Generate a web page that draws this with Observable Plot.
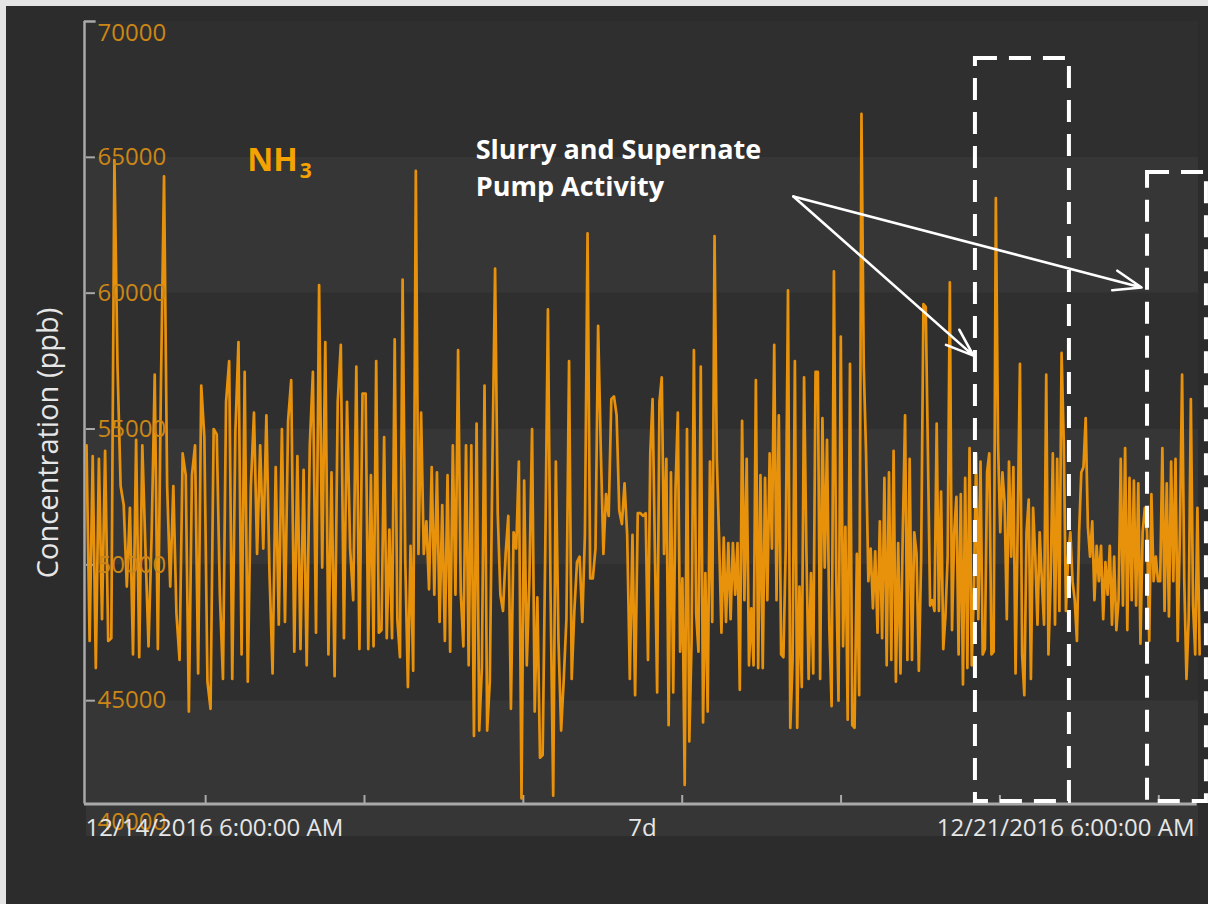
<!DOCTYPE html>
<html><head><meta charset="utf-8">
<script src="https://cdn.jsdelivr.net/npm/d3@7"></script>
<script src="https://cdn.jsdelivr.net/npm/@observablehq/plot@0.6"></script>
<style>
html,body{margin:0;padding:0;background:#2c2c2c;overflow:hidden;}
#edgeTop{position:fixed;left:0;top:0;width:100%;height:6px;background:#e4e4e4;z-index:2;}
#edgeLeft{position:fixed;left:0;top:0;width:6px;height:100%;background:#e4e4e4;z-index:2;}
#frame{position:absolute;left:6px;top:6px;width:1202px;height:898px;background:#2c2c2c;}
#frame svg{overflow:visible;}
</style></head><body><div id="edgeTop"></div><div id="edgeLeft"></div><div id="frame"></div>
<script>
// NH3 concentration (ppb), in four consecutive time segments
const seg1 = [54400, 47200, 54000, 46200, 53900, 48000, 54200, 47200, 47300, 64900, 57300, 52900, 52200, 49200, 52100, 46700, 54600, 46600, 54400, 50600, 47000, 51100, 57000, 46900, 56600, 64300, 52900, 49200, 52900, 48200, 46500, 54100, 53300, 44600, 53300, 54400, 46000, 56600, 54700, 45700, 44700, 55000, 54800, 48900, 45800, 56000, 57500, 45800, 54900, 58200, 46700, 57100, 45700, 52900, 55600, 50400, 54400, 50600, 55500, 49700, 46000, 53600, 47800, 55000, 47900, 55300, 56800, 46800, 54000, 46900, 53500, 46300, 54400, 57100, 47500, 60300, 49900, 58200, 46700, 53400, 45900, 56000, 58100, 47300, 56000, 50600, 48700, 57300, 46900, 56300];
const seg2 = [56300, 46900, 53300, 47000, 57500, 47500, 47600, 54700, 47300, 51300, 47300, 58300, 48000, 46600, 60500, 50200, 45500, 50700, 46100, 64500, 50400, 55600, 50400, 51600, 49100, 53600, 48900, 53400, 47900, 52200, 47200, 53300, 46800, 54400, 48900, 57900, 49000, 47000, 54400, 46300, 54400, 43700, 55200, 43900, 46200, 56600, 43900, 45700, 53900, 60900, 51900, 48900, 48300, 50400, 51800, 44700, 51200, 50600, 53800, 41400, 53100, 46300, 49500, 55000, 44600, 48800, 42900, 43000, 50600, 59400, 48900, 41500, 53800, 47200, 43900, 45800, 48000, 57500, 45800, 48300, 50100, 50300, 47900, 51100, 62200, 49500, 49500, 50600, 58800, 54300, 50400, 52600, 51800, 56100, 56200, 55500, 52000, 51500, 53000, 51100, 45800, 51100, 45200, 51900, 51900, 51800];
const seg3 = [51900, 46500, 54100, 56100, 50600, 45300, 56000, 56900, 50400, 53900, 44100, 53400, 45300, 52800, 55600, 46800, 49500, 41900, 55000, 43500, 47200, 57900, 48200, 46800, 57300, 44200, 49700, 44600, 53800, 47900, 62100, 53900, 50900, 47500, 51000, 47900, 50800, 48000, 50800, 48900, 50800, 45400, 55300, 48700, 53900, 46300, 48400, 46300, 56800, 46200, 53300, 46200, 53200, 48700, 54100, 50600, 58100, 48700, 55500, 46700, 46600, 50600, 60100, 44000, 46500, 57500, 44000, 49200, 45500, 56900, 50600, 45800, 49700, 46000, 57100, 57100, 45800, 55400, 49900, 54600, 47700, 44800, 60800, 49700, 45000, 58400, 47000, 51400, 44300, 57400, 44100, 44000, 50400, 45200, 66600, 57300, 54100, 49400, 50600, 48400, 50500, 47500, 51600, 47300, 53200, 46300, 53400, 46500, 54200, 45700, 50800, 46000, 51200, 55500, 46500, 53900, 46500, 51200, 50400, 46100, 50200, 59600];
const seg4 = [59500, 54100, 48500, 48700, 48300, 55200, 48300, 52700, 46900, 48100, 50300, 60400, 47600, 51200, 52500, 46700, 52600, 45600, 53200, 46200, 54300, 46300, 49100, 54100, 48000, 53800, 46700, 46900, 53400, 54100, 46700, 46800, 63500, 54500, 51200, 53400, 52300, 48000, 53800, 50300, 53600, 46000, 51600, 57400, 46700, 45200, 51200, 52400, 45800, 52100, 50300, 47800, 51200, 49400, 47800, 57000, 46700, 49400, 54100, 47800, 53900, 48300, 57800, 54500, 48300, 50300, 51200, 49400, 48700, 47200, 51200, 53400, 53600, 55400, 51400, 50300, 51600, 48700, 50700, 49400, 50700, 48000, 50100, 48900, 50700, 47800, 50300, 47600, 48700, 53900, 48500, 54300, 47600, 53200, 48700, 53100, 48500, 53000, 47100, 51200, 52100, 51200, 47200, 52600, 49400, 50300, 49400, 49400, 54300, 48300, 53000, 48100, 53800, 49400, 53900, 47200, 51200, 57000, 49400, 45800, 48000, 56100, 48500, 46700, 52100, 46700];
// hours since 12/14/2016 6:00 AM bounding each segment
const segmentHours = [0, 42.17, 84.48, 126.79, 168.5];

const yTicks = [45000, 50000, 55000, 60000, 65000];
const yTopTick = 70000;
const yBottomTick = 40000;
const bandLows = [40000, 45000, 50000, 55000, 60000, 65000];
const midnightHours = [18, 42, 66, 90, 114, 138, 162];
const xLabelHours = [0, 84, 168];
const xLabelTexts = ["12/14/2016 6:00:00 AM", "7d", "12/21/2016 6:00:00 AM"];
const axisBaseValue = 41200;

const boxHours1 = [134.3, 160.3];
const boxHours2 = [148.5, 169.2];
const boxLowValues = [41290, 41290];
const boxHighValues = [68640, 64440];
const arrowFrom = {h: 106.8, v: 63560};
const arrowToHours = [134.0, 159.4];
const arrowToValues = [57700, 60210];
const annotationText = "Slurry and Supernate\nPump Activity";
const annotationPos = {h: 58.8, v: 64700};
const legendMain = {text: "NH", h: 24.3, v: 64880};
const legendSub = {text: "3", h: 32.2, v: 64480};

const startTime = Date.UTC(2016, 11, 14, 6);
const H = 3600e3;
const T = h => new Date(startTime + h * H);

const segments = [seg1, seg2, seg3, seg4];
const data = segments.flatMap((seg, k) => seg.map((v, i) => ({
  t: T(segmentHours[k] + (segmentHours[k + 1] - segmentHours[k]) * i / seg.length), v
})));

const bands = bandLows.map((lo, i) => ({lo, hi: lo + 5000, fill: i % 2 === 0 ? "#363636" : "#2f2f2f"}));
const boxes = boxHours1.map((h, i) => ({x1: T(h), x2: T(boxHours2[i]), y1: boxLowValues[i], y2: boxHighValues[i]}));
const arrows = arrowToHours.map((h, i) => ({x1: T(arrowFrom.h), y1: arrowFrom.v, x2: T(h), y2: arrowToValues[i]}));
const xLabels = xLabelHours.map((h, i) => ({t: T(h), text: xLabelTexts[i]}));

const axisColor = "#a9a9a9";
const orange = "#e8920c";
const tickLabelOrange = "#cc8616";
const tickLenH = 1.35;

const chart = Plot.plot({
  width: 1202,
  height: 898,
  marginLeft: 80,
  marginRight: 10,
  marginTop: 15,
  marginBottom: 68,
  style: {background: "transparent", fontFamily: "Open Sans, sans-serif"},
  x: {type: "utc", domain: [T(0), T(168)], axis: null},
  y: {domain: [40000, 70000], axis: null},
  marks: [
    Plot.rect(bands, {y1: "lo", y2: "hi", fill: "fill"}),
    // y axis
    Plot.ruleX([T(0)], {y1: axisBaseValue, y2: yTopTick, stroke: axisColor, strokeWidth: 2.5, dx: -2}),
    Plot.ruleY([yTopTick], {x1: T(0), x2: T(tickLenH * 1.3), stroke: axisColor, strokeWidth: 2.5, dx: -2}),
    Plot.ruleY(yTicks, {x1: T(0), x2: T(tickLenH), stroke: axisColor, strokeWidth: 2}),
    // x axis
    Plot.ruleY([axisBaseValue], {x1: T(0), x2: T(168.1), stroke: axisColor, strokeWidth: 3, dx: -2}),
    Plot.ruleX(midnightHours.map(T), {y1: axisBaseValue, y2: axisBaseValue + 310, stroke: axisColor, strokeWidth: 2}),
    // data
    Plot.line(data, {x: "t", y: "v", stroke: orange, strokeWidth: 2.7, clip: false}),
    // y tick labels
    Plot.text(yTicks, {x: T(0), y: d => d, text: d => String(d), textAnchor: "start", dx: 11, fill: tickLabelOrange, fontSize: 24}),
    Plot.text([yTopTick], {x: T(0), y: d => d, text: d => String(d), textAnchor: "start", dx: 11, dy: 12, fill: tickLabelOrange, fontSize: 24}),
    Plot.text([yBottomTick], {x: T(0), y: d => d, text: d => String(d), textAnchor: "start", dx: 11, dy: -14, fill: tickLabelOrange, fontSize: 24}),
    // x tick labels
    Plot.text(xLabels.slice(0, 1), {x: "t", y: yBottomTick, text: "text", textAnchor: "start", dx: -1, dy: -8, fill: "#e6e6e6", fontSize: 24}),
    Plot.text(xLabels.slice(1, 2), {x: "t", y: yBottomTick, text: "text", textAnchor: "middle", dy: -8, fill: "#e6e6e6", fontSize: 24}),
    Plot.text(xLabels.slice(2, 3), {x: "t", y: yBottomTick, text: "text", textAnchor: "end", dx: -4, dy: -8, fill: "#e6e6e6", fontSize: 24}),
    // y axis title
    Plot.text(["Concentration (ppb)"], {frameAnchor: "left", textAnchor: "middle", dx: -38, dy: 14, rotate: -90, fill: "#e6e6e6", fontSize: 29}),
    // legend label
    Plot.text([legendMain], {x: d => T(d.h), y: "v", text: "text", textAnchor: "start", fill: "#f5a300", fontSize: 32, fontWeight: "bold"}),
    Plot.text([legendSub], {x: d => T(d.h), y: "v", text: "text", textAnchor: "start", fill: "#f5a300", fontSize: 21, fontWeight: "bold"}),
    // annotation
    Plot.rect(boxes, {x1: "x1", x2: "x2", y1: "y1", y2: "y2", fill: "none", stroke: "white", strokeWidth: 4, strokeDasharray: "22,12", clip: false}),
    Plot.arrow(arrows, {x1: "x1", y1: "y1", x2: "x2", y2: "y2", stroke: "white", strokeWidth: 2.6, headLength: 17, headAngle: 40, bend: 0}),
    Plot.text([annotationText], {x: T(annotationPos.h), y: annotationPos.v, textAnchor: "start", lineAnchor: "middle", lineHeight: 1.4, fill: "white", fontSize: 27, fontWeight: "bold"})
  ]
});
document.getElementById("frame").appendChild(chart);
</script></body></html>
